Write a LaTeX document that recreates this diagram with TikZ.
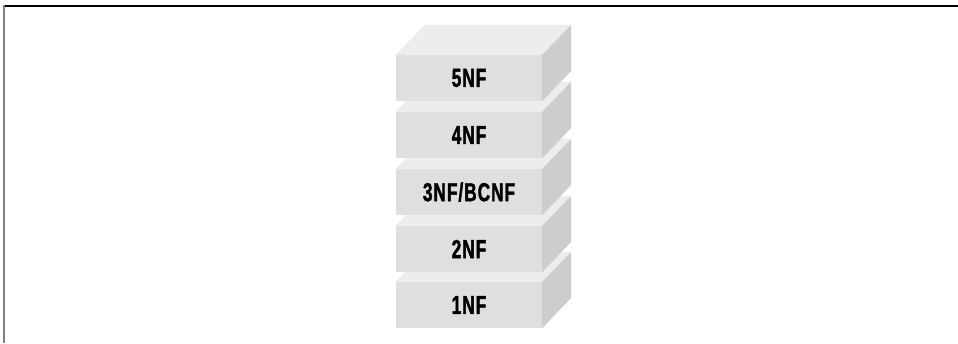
\documentclass[tikz,border=0pt]{standalone}
\usepackage{fontspec}
\newfontfamily\condfont[FakeStretch=0.66, FakeBold=1.6, LetterSpace=4]{Liberation Sans}
\definecolor{frontc}{HTML}{DFDFDF}
\definecolor{topc}{HTML}{EDEDED}
\definecolor{sidec}{HTML}{CDCDCD}
\definecolor{framegray}{HTML}{808080}
\tikzset{
  front/.style={fill=frontc, draw=none, minimum width=146pt, minimum height=46pt, inner sep=0pt,
    font=\condfont\bfseries\fontsize{26}{26}\selectfont, text=black},
  topface/.style={fill=topc, draw=none},
  sideface/.style={fill=sidec, draw=none},
}
\newcommand{\faces}[1]{%
  \fill[topface] (#1.north west) -- ++(29,-30) -- ++(146,0) -- (#1.north east) -- cycle;
  \fill[sideface] (#1.north east) -- ++(29,-30) -- ++(0,46) -- (#1.south east) -- cycle;
}
\begin{document}
\begin{tikzpicture}[x=1pt,y=-1pt]
\useasboundingbox (0,0) rectangle (958,343);
\fill[white] (0,0) rectangle (958,343);
\coordinate (tl) at (3,6);
\coordinate (tr) at (958,6);
\coordinate (bl) at (4,343);
\draw[black, line width=1.2pt] (tl) -- (tr);
\draw[framegray, line width=2pt] (4,5.4) -- (bl);
% blocks bottom to top
\node[front] (b1) at (469,305) {1NF};
\faces{b1}
\node[front] (b2) at (469,249) {2NF};
\faces{b2}
\node[front] (b3) at (469,192) {3NF/BCNF};
\faces{b3}
\node[front] (b4) at (469,135) {4NF};
\faces{b4}
\node[front] (b5) at (469,78) {5NF};
\faces{b5}
\end{tikzpicture}
\end{document}
